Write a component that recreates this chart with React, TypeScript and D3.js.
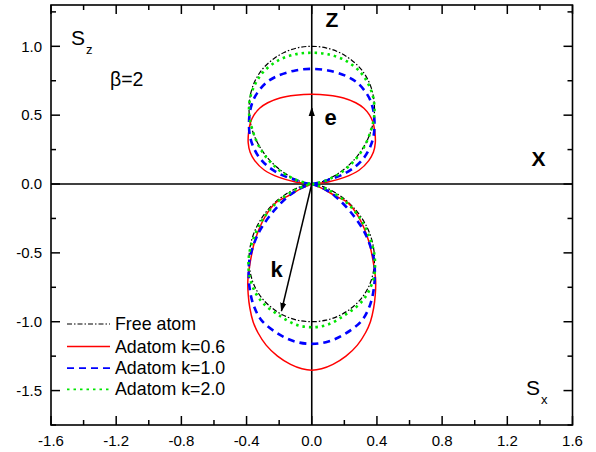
import React from 'react';
import * as d3 from 'd3';

const W = 596;
const H = 452;
const PL = 51, PR = 572.5, PT = 5, PB = 425;

const xDomain = [-1.6, 1.6];
const yDomain = [-1.75, 1.3];
const xTickValues = [-1.6, -1.2, -0.8, -0.4, 0, 0.4, 0.8, 1.2, 1.6];
const xTickLabels = ['-1.6', '-1.2', '-0.8', '-0.4', '0.0', '0.4', '0.8', '1.2', '1.6'];
const xMinorValues = [-1.4, -1.0, -0.6, -0.2, 0.2, 0.6, 1.0, 1.4];
const yTickValues = [-1.5, -1.0, -0.5, 0, 0.5, 1.0];
const yTickLabels = ['-1.5', '-1.0', '-0.5', '0.0', '0.5', '1.0'];
const yMinorValues = [-1.75, -1.25, -0.75, -0.25, 0.25, 0.75, 1.25];

// right halves (x >= 0) of each lobe, from origin to apex: [Sx, Sz]
const freeTop: [number, number][] = [[0, 0], [0.028, 0.005], [0.065, 0.017], [0.11, 0.04], [0.162, 0.076], [0.217, 0.125], [0.27, 0.189], [0.317, 0.266], [0.354, 0.354], [0.377, 0.449], [0.385, 0.549], [0.376, 0.65], [0.35, 0.744], [0.305, 0.83], [0.243, 0.901], [0.17, 0.955], [0.087, 0.989], [0, 1]];
const freeBottom: [number, number][] = [[0, 0], [0.028, -0.005], [0.065, -0.017], [0.11, -0.04], [0.162, -0.076], [0.217, -0.125], [0.27, -0.189], [0.317, -0.266], [0.354, -0.354], [0.377, -0.449], [0.385, -0.549], [0.376, -0.65], [0.35, -0.744], [0.305, -0.83], [0.243, -0.901], [0.17, -0.955], [0.087, -0.989], [0, -1]];
const k06Top: [number, number][] = [[0, 0], [0.1, 0.015], [0.2, 0.048], [0.29, 0.1], [0.35, 0.17], [0.378, 0.23], [0.39, 0.3], [0.387, 0.38], [0.375, 0.45], [0.355, 0.5], [0.32, 0.55], [0.27, 0.59], [0.195, 0.625], [0.1, 0.645], [0, 0.652]];
const k06Bottom: [number, number][] = [[0, 0], [0.06, -0.03], [0.15, -0.09], [0.215, -0.13], [0.287, -0.238], [0.348, -0.408], [0.379, -0.578], [0.392, -0.7], [0.39, -0.8], [0.38, -0.9], [0.36, -1.0], [0.33, -1.08], [0.28, -1.17], [0.21, -1.25], [0.13, -1.31], [0.06, -1.342], [0, -1.352]];
const k10Top: [number, number][] = [[0, 0], [0.05, 0.01], [0.1, 0.03], [0.185, 0.066], [0.267, 0.126], [0.32, 0.19], [0.355, 0.26], [0.378, 0.34], [0.385, 0.42], [0.38, 0.52], [0.362, 0.6], [0.335, 0.66], [0.28, 0.735], [0.21, 0.785], [0.1, 0.825], [0, 0.836]];
const k10Bottom: [number, number][] = [[0, 0], [0.06, -0.025], [0.143, -0.088], [0.246, -0.214], [0.328, -0.36], [0.379, -0.53], [0.387, -0.63], [0.383, -0.74], [0.36, -0.87], [0.308, -0.99], [0.205, -1.088], [0.102, -1.144], [0, -1.161]];
const k20Top: [number, number][] = [[0, 0], [0.03, 0.006], [0.11, 0.037], [0.215, 0.115], [0.315, 0.255], [0.375, 0.44], [0.385, 0.54], [0.375, 0.64], [0.345, 0.73], [0.3, 0.81], [0.21, 0.895], [0.1, 0.942], [0, 0.953]];
const k20Bottom: [number, number][] = [[0, 0], [0.028, -0.008], [0.105, -0.045], [0.21, -0.13], [0.31, -0.275], [0.375, -0.46], [0.388, -0.56], [0.382, -0.67], [0.345, -0.79], [0.29, -0.875], [0.205, -0.95], [0.1, -1.02], [0, -1.04]];

const seriesNames = ['Free atom', 'Adatom k=0.6', 'Adatom k=1.0', 'Adatom k=2.0'];
const seriesLobes = [[freeTop, freeBottom], [k06Top, k06Bottom], [k10Top, k10Bottom], [k20Top, k20Bottom]];
const seriesColors = ['#000000', '#ff0000', '#0000ff', '#00e600'];
const seriesDash = ['5,2,1.5,2', 'none', '7,5', '2.5,4'];
const seriesWidth = [1.2, 1.5, 2.6, 2.6];
const legendWidth = [1.2, 1.6, 1.8, 1.8];

// arrow tips (annotations)
const arrowE: [number, number] = [0, 0.552];
const arrowK: [number, number] = [-0.186, -0.922];

const font = "'Liberation Sans', Arial, sans-serif";

function lobe(half: [number, number][]): [number, number][] {
  const mirrored = half.slice(0, -1).reverse().map(([x, z]) => [-x, z] as [number, number]);
  return [...half, ...mirrored];
}

export default function App() {
  const x = d3.scaleLinear().domain(xDomain).range([PL, PR]);
  const y = d3.scaleLinear().domain(yDomain).range([PB, PT]);
  const line = d3.line<[number, number]>().x(d => x(d[0])).y(d => y(d[1])).curve(d3.curveCatmullRom.alpha(0.5));

  const legendRowsY = [324, 346.5, 368.2, 389.3];

  return (
    <svg width={W} height={H} style={{ position: 'absolute', left: 0, top: 0, background: '#fff' }} fontFamily={font}>
      <defs>
        <marker id="ah" viewBox="0 0 10 10" refX="9" refY="5" markerWidth="9" markerHeight="9" markerUnits="userSpaceOnUse" orient="auto">
          <path d="M0,1.5 L10,5 L0,8.5 Z" fill="#000" />
        </marker>
      </defs>
      <rect x={0} y={0} width={W} height={H} fill="#fff" />

      {/* center axes */}
      <line x1={x(0)} x2={x(0)} y1={PT} y2={PB} stroke="#000" strokeWidth={1.6} />
      <line x1={PL} x2={PR} y1={y(0)} y2={y(0)} stroke="#000" strokeWidth={1.6} />

      {/* curves */}
      {seriesLobes.map((lobes, i) => (
        <g key={i}>
          {lobes.map((half, j) => (
            <path key={j} d={line(lobe(half)) || ''} fill="none" stroke={seriesColors[i]} strokeWidth={seriesWidth[i]} strokeDasharray={seriesDash[i]} />
          ))}
        </g>
      ))}

      {/* arrows */}
      <line x1={x(0)} y1={y(0)} x2={x(arrowE[0])} y2={y(arrowE[1])} stroke="#000" strokeWidth={1.5} markerEnd="url(#ah)" />
      <line x1={x(0)} y1={y(0)} x2={x(arrowK[0])} y2={y(arrowK[1])} stroke="#000" strokeWidth={1.5} markerEnd="url(#ah)" />

      {/* frame */}
      <rect x={PL} y={PT} width={PR - PL} height={PB - PT} fill="none" stroke="#000" strokeWidth={1.6} />

      {/* ticks */}
      {xTickValues.map((v, i) => (
        <g key={'xt' + i}>
          <line x1={x(v)} x2={x(v)} y1={PB} y2={PB - 9} stroke="#000" strokeWidth={1.5} />
          <line x1={x(v)} x2={x(v)} y1={PT} y2={PT + 9} stroke="#000" strokeWidth={1.5} />
          <text x={x(v)} y={445.5} fontSize={15} textAnchor="middle">{xTickLabels[i]}</text>
        </g>
      ))}
      {xMinorValues.map((v, i) => (
        <g key={'xm' + i}>
          <line x1={x(v)} x2={x(v)} y1={PB} y2={PB - 5} stroke="#000" strokeWidth={1.5} />
          <line x1={x(v)} x2={x(v)} y1={PT} y2={PT + 5} stroke="#000" strokeWidth={1.5} />
        </g>
      ))}
      {yTickValues.map((v, i) => (
        <g key={'yt' + i}>
          <line x1={PL} x2={PL + 9} y1={y(v)} y2={y(v)} stroke="#000" strokeWidth={1.5} />
          <line x1={PR} x2={PR - 9} y1={y(v)} y2={y(v)} stroke="#000" strokeWidth={1.5} />
          <text x={42} y={y(v) + 5.3} fontSize={15} textAnchor="end">{yTickLabels[i]}</text>
        </g>
      ))}
      {yMinorValues.map((v, i) => (
        <g key={'ym' + i}>
          <line x1={PL} x2={PL + 5} y1={y(v)} y2={y(v)} stroke="#000" strokeWidth={1.5} />
          <line x1={PR} x2={PR - 5} y1={y(v)} y2={y(v)} stroke="#000" strokeWidth={1.5} />
        </g>
      ))}

      {/* annotations */}
      <text x={71} y={45} fontSize={21}>S<tspan dx={1} dy={9} fontSize={13}>z</tspan></text>
      <text x={110} y={86} fontSize={19.5}>β=2</text>
      <text x={526} y={395} fontSize={21}>S<tspan dx={1} dy={9} fontSize={13}>x</tspan></text>
      <text x={325.5} y={26.7} fontSize={21} fontWeight="bold">Z</text>
      <text x={531.5} y={165.7} fontSize={21} fontWeight="bold">X</text>
      <text x={324.5} y={125} fontSize={22} fontWeight="bold">e</text>
      <text x={270.5} y={276.7} fontSize={22} fontWeight="bold">k</text>

      {/* legend */}
      {seriesNames.map((name, i) => (
        <g key={'lg' + i}>
          <line x1={67} x2={110} y1={legendRowsY[i]} y2={legendRowsY[i]} stroke={seriesColors[i]} strokeWidth={legendWidth[i]} strokeDasharray={seriesDash[i]} />
          <text x={115} y={legendRowsY[i] + 6} fontSize={17.8}>{name}</text>
        </g>
      ))}
    </svg>
  );
}
